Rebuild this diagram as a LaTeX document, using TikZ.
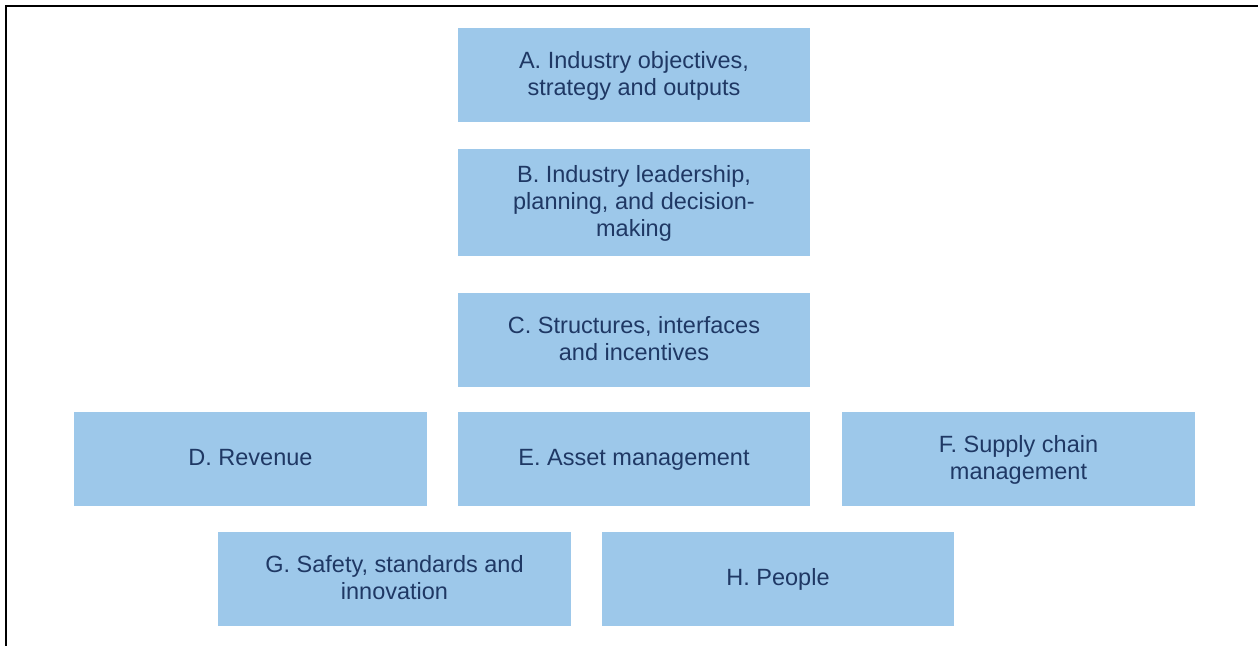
\documentclass[tikz,border=0pt]{standalone}
\usepackage{fontspec}
\setmainfont{Liberation Sans}
\definecolor{boxfill}{HTML}{9DC8EA}
\definecolor{boxtext}{HTML}{1F3864}
\begin{document}
\begin{tikzpicture}[x=1pt,y=-1pt,
  blockbox/.style={fill=boxfill, text=boxtext, inner sep=0pt, align=center,
    font=\fontsize{23.5}{27}\selectfont, text depth=0pt},
  frameline/.style={line width=2.5pt, black}]
\useasboundingbox (0,0) rectangle (1258,646);
\fill[white] (0,0) rectangle (1258,646);
\draw[frameline] (1258,6) -- (6,6) -- (6,646);
\newcommand{\blk}[6]{%
  \fill[boxfill] (#2,#3) rectangle (#4,#5);
  \node[blockbox] (#1) at ({(#2+#4)/2},{(#3+#5)/2-2}) {#6};}
\blk{A}{458}{28}{810}{122}{A. Industry objectives,\\strategy and outputs}
\blk{B}{458}{149}{810}{256}{B. Industry leadership,\\planning, and decision-\\making}
\blk{C}{458}{293}{810}{387}{C. Structures, interfaces\\and incentives}
\blk{D}{74}{412}{427}{506}{D. Revenue}
\blk{E}{458}{412}{810}{506}{E. Asset management}
\blk{F}{842}{412}{1195}{506}{F. Supply chain\\management}
\blk{G}{218}{532}{571}{626}{G. Safety, standards and\\innovation}
\blk{H}{602}{532}{954}{626}{H. People}
\end{tikzpicture}
\end{document}
